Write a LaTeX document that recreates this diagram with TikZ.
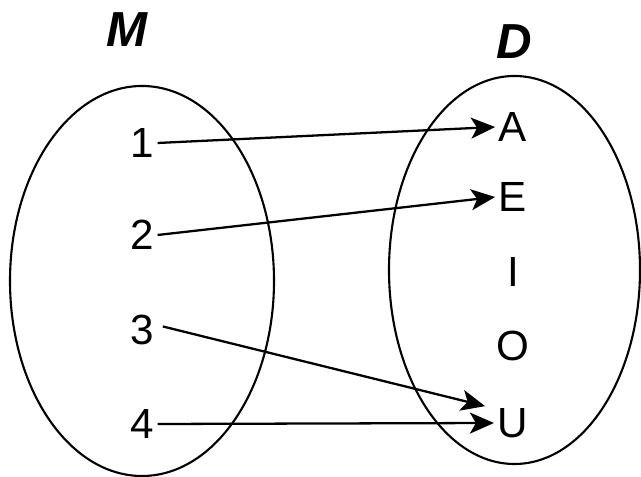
\documentclass[tikz,border=0pt]{standalone}
\usepackage{fontspec}
\setmainfont{Liberation Sans}
\usetikzlibrary{arrows.meta}

\tikzset{
  elem/.style={inner sep=2pt, font=\fontsize{24}{28}\selectfont},
  setname/.style={font=\fontsize{28}{32}\selectfont\bfseries\itshape},
  mapto/.style={line width=1.3pt, -{Stealth[length=0.48cm, width=0.42cm, inset=0.12cm]}}
}

\begin{document}
\begin{tikzpicture}[x=1cm, y=1cm]
\useasboundingbox (0,0) rectangle (12.82,9.54);
% the two sets
\draw[line width=1.2pt] (2.84,3.92) ellipse [x radius=2.64, y radius=3.90];
\draw[line width=1.2pt] (10.29,4.14) ellipse [x radius=2.51, y radius=3.88];
\node[setname] (M) at (2.54,8.94) {M};
\node[setname] (D) at (10.28,8.70) {D};
% elements of M
\foreach \n/\y in {1/6.68, 2/4.84, 3/2.94, 4/1.06} {
  \node[elem] (m\n) at (2.84,\y) {\n};
}
% elements of D
\foreach \l/\y in {A/7.00, E/5.60, I/4.10, O/2.62, U/1.08} {
  \node[elem] (d\l) at (10.26,\y) {\l};
}
% the mapping
\draw[mapto] (m1.east) -- (dA.west);
\draw[mapto] (m2.east) -- (dE.west);
\draw[mapto] ([xshift=3pt,yshift=2pt]m3.east) -- ([xshift=-5pt,yshift=-1pt]dU.north west);
\draw[mapto] (m4.east) -- (dU.west);
\end{tikzpicture}
\end{document}
